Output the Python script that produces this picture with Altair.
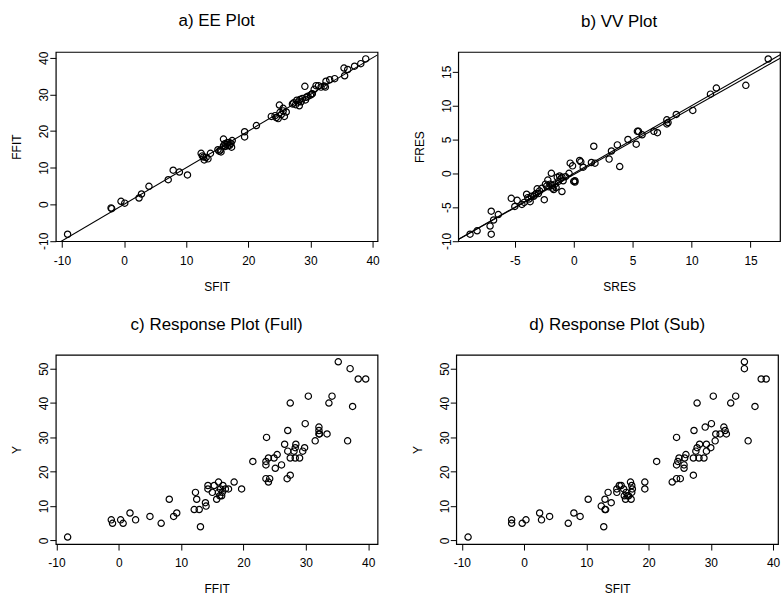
import altair as alt
import pandas as pd

# ---------------- data ----------------
# a) EE plot: SFIT vs FFIT
a_sfit = [-9.1, -2.1, -2.0, -0.5, 0.1, 2.4, 2.8, 4.0, 7.1, 7.9, 8.9, 10.2, 12.4, 12.6, 12.8,
          12.9, 13.2, 13.5, 13.9, 15.1, 15.3, 15.5, 15.6, 16.0, 16.0, 16.2, 16.3, 16.4, 16.6,
          16.7, 16.9, 17.0, 17.2, 17.3, 17.4, 19.4, 19.4, 21.3, 23.7, 24.3, 24.5, 24.8, 25.0,
          25.1, 25.3, 25.6, 25.6, 25.8, 26.1, 27.1, 27.3, 27.6, 27.8, 28.0, 28.2, 28.3, 28.5,
          28.7, 29.1, 29.2, 29.3, 29.6, 30.0, 30.2, 30.3, 30.6, 30.9, 31.3, 31.7, 32.2, 32.4,
          32.5, 33.1, 33.9, 35.4, 35.5, 36.0, 37.1, 38.1, 38.9]
a_ffit = [-8.2, -1.0, -1.2, 0.8, 0.3, 1.7, 2.8, 4.9, 6.7, 9.3, 8.8, 8.0, 13.9, 13.2, 12.9,
          12.1, 12.8, 12.4, 13.9, 14.9, 14.5, 14.8, 14.3, 17.8, 16.0, 16.5, 15.8, 16.4, 16.8,
          16.0, 16.9, 16.1, 16.6, 15.6, 17.4, 19.8, 18.4, 21.5, 24.0, 24.2, 23.7, 23.4, 27.1,
          25.1, 24.5, 25.5, 26.2, 24.0, 25.2, 27.4, 27.7, 27.2, 28.4, 27.9, 26.9, 28.6, 28.0,
          28.9, 32.2, 28.5, 29.2, 29.5, 29.8, 30.1, 30.2, 31.4, 32.4, 32.4, 32.0, 32.3, 32.0,
          33.6, 34.0, 34.3, 37.2, 35.1, 36.8, 37.7, 38.4, 39.7]

# b) VV plot: SRES vs FRES
b_sres = [-8.8, -8.2, -7.0, -7.1, -7.0, -6.8, -6.4, -5.3, -5.0, -4.8, -4.4, -4.2, -4.0, -3.9,
          -3.8, -3.7, -3.6, -3.4, -3.3, -3.2, -3.1, -3.0, -2.9, -2.7, -2.5, -2.4, -2.3, -2.2,
          -2.1, -1.9, -2.0, -1.8, -1.8, -1.7, -1.6, -1.5, -1.4, -1.3, -1.2, -1.1, -1.0, -1.0,
          -0.9, -0.7, -0.4, -0.3, -0.1, 0.0, 0.1, 0.1, 0.5, 0.6, 0.8, 1.5, 1.7, 1.8, 3.0, 3.2,
          3.7, 3.9, 4.6, 5.3, 5.4, 5.5, 5.8, 6.8, 7.1, 7.9, 7.9, 8.0, 8.7, 10.1, 11.6, 12.1,
          14.6, 16.5]
b_fres = [-9.0, -8.5, -9.0, -7.8, -5.6, -6.9, -6.1, -3.7, -4.9, -4.0, -4.6, -4.3, -3.1, -3.6,
          -3.8, -4.2, -3.4, -3.4, -3.2, -3.0, -2.3, -3.0, -2.6, -2.2, -3.9, -1.6, -1.9, -1.0,
          -2.0, 0.0, -1.6, -1.8, -2.2, -2.4, -1.6, -2.1, -0.6, -1.2, -0.4, -0.8, -0.6, -2.7,
          -1.1, -0.5, 0.0, 1.5, 1.1, -1.2, -1.1, -1.3, 1.9, 1.7, 0.9, 1.6, 4.0, 1.5, 2.1, 3.3,
          4.2, 1.0, 5.0, 4.3, 6.2, 6.2, 5.7, 6.2, 6.0, 7.9, 7.3, 7.5, 8.7, 9.3, 11.7, 12.6,
          13.0, 16.9]

# c) Response plot (full): FFIT vs Y
c_ffit = [-8.2, -1.2, -1.0, 0.3, 0.7, 1.8, 2.7, 5.0, 6.8, 8.1, 8.8, 9.3, 12.1, 12.3, 12.5,
          12.9, 13.1, 13.9, 14.0, 14.3, 14.3, 15.0, 15.3, 16.0, 15.7, 16.0, 16.2, 16.3, 16.6,
          16.7, 16.5, 17.1, 17.6, 18.5, 19.7, 21.5, 23.7, 23.6, 23.6, 24.0, 23.6, 24.2, 24.0,
          24.9, 25.1, 25.4, 26.1, 26.6, 27.1, 27.1, 27.0, 27.5, 27.5, 27.5, 28.1, 28.3, 28.4,
          28.3, 29.0, 29.5, 29.8, 29.9, 30.4, 31.5, 32.1, 32.1, 32.1, 32.2, 33.4, 33.7, 34.2,
          35.2, 36.7, 37.1, 37.5, 38.4, 39.6]
c_y = [1, 6, 5, 6, 5, 8, 6, 7, 5, 12, 7, 8, 9, 14, 12,
       9, 4, 11, 10, 16, 15, 14, 16, 17, 12, 14, 13, 15, 14,
       16, 13, 15, 15, 17, 15, 23, 30, 23, 22, 24, 18, 18, 17,
       24, 21, 25, 22, 28, 32, 26, 18, 19, 40, 24, 26, 27, 28,
       24, 24, 26, 27, 34, 42, 29, 33, 32, 31, 31, 31, 40, 42,
       52, 29, 50, 39, 47, 47]

# d) Response plot (sub): SFIT vs Y
d_sfit = [-9.0, -2.0, -2.0, -0.3, 0.3, 2.5, 2.8, 4.1, 7.1, 8.0, 9.0, 10.3, 12.4, 12.8, 13.0,
          13.0, 13.1, 13.5, 14.0, 14.9, 14.9, 15.3, 15.6, 16.0, 16.1, 16.4, 16.6, 16.8, 17.1,
          17.2, 17.3, 17.3, 17.4, 16.3, 19.4, 19.4, 21.3, 23.8, 24.5, 24.5, 24.7, 24.9, 24.5,
          25.1, 25.7, 25.7, 25.8, 26.0, 27.2, 27.2, 27.3, 27.8, 27.6, 27.8, 28.2, 28.1, 28.9,
          29.1, 29.3, 29.3, 30.1, 30.4, 30.0, 30.7, 30.8, 31.5, 32.1, 32.3, 32.5, 33.2, 34.0,
          35.4, 35.4, 36.0, 37.1, 38.1, 38.9]
d_y = [1, 6, 5, 5, 6, 8, 6, 7, 5, 8, 7, 12, 10, 4, 12,
       9, 9, 14, 11, 15, 14, 16, 16, 15, 13, 14, 13, 13, 17,
       12, 16, 14, 15, 12, 17, 15, 23, 17, 30, 22, 23, 24, 18,
       18, 22, 21, 24, 25, 19, 24, 32, 40, 26, 27, 28, 24, 24,
       33, 28, 26, 34, 42, 27, 29, 31, 31, 33, 32, 31, 40, 42,
       52, 50, 29, 39, 47, 47]

# reference lines
a_line_x = [-11.0, 40.8]
a_line_y = [-11.0, 40.8]
b_id_x = [-9.8, 17.6]
b_id_y = [-9.8, 17.6]
b_fit_x = [-9.8, 17.6]
b_fit_y = [-9.8, 17.1]

FONT = "Liberation Sans"
W, H = 323, 190
LABEL_EXPR = "'' + datum.value"


def panel(px, py, xdom, ydom, xticks, yticks, title, xt, yt, lines=()):
    df = pd.DataFrame({"x": px, "y": py})
    xs = alt.Scale(domain=xdom, nice=False, zero=False)
    ys = alt.Scale(domain=ydom, nice=False, zero=False)
    xenc = alt.X("x:Q", scale=xs, axis=alt.Axis(values=xticks, title=xt, labelExpr=LABEL_EXPR))
    yenc = alt.Y("y:Q", scale=ys, axis=alt.Axis(values=yticks, title=yt, labelExpr=LABEL_EXPR))
    layers = []
    for lx, ly in lines:
        ldf = pd.DataFrame({"x": lx, "y": ly})
        layers.append(
            alt.Chart(ldf).mark_line(color="black", strokeWidth=1.1, clip=True).encode(x=xenc, y=yenc)
        )
    pts = alt.Chart(df).mark_point(
        shape="circle", filled=False, color="black", size=40, strokeWidth=1.2, opacity=1
    ).encode(x=xenc, y=yenc)
    layers.append(pts)
    return alt.layer(*layers).properties(
        width=W, height=H,
        title=alt.TitleParams(title, frame="group", anchor="middle", offset=21),
    )


pa = panel(a_sfit, a_ffit, [-11.0, 40.8], [-10.1, 41.6], [-10, 0, 10, 20, 30, 40],
           [-10, 0, 10, 20, 30, 40], "a) EE Plot", "SFIT", "FFIT",
           lines=[(a_line_x, a_line_y)])
pb = panel(b_sres, b_fres, [-9.8, 17.5], [-10.04, 17.94], [-5, 0, 5, 10, 15],
           [-10, -5, 0, 5, 10, 15], "b) VV Plot", "SRES", "FRES",
           lines=[(b_id_x, b_id_y), (b_fit_x, b_fit_y)])
pc = panel(c_ffit, c_y, [-10.1, 41.5], [-1.04, 54.04], [-10, 0, 10, 20, 30, 40],
           [0, 10, 20, 30, 40, 50], "c) Response Plot (Full)", "FFIT", "Y")
pd_ = panel(d_sfit, d_y, [-10.9, 40.8], [-1.04, 54.04], [-10, 0, 10, 20, 30, 40],
            [0, 10, 20, 30, 40, 50], "d) Response Plot (Sub)", "SFIT", "Y")

chart = alt.vconcat(
    alt.hconcat(pa, pb, spacing=32),
    alt.hconcat(pc, pd_, spacing=32),
    spacing=22,
).properties(
    padding={"left": 10, "top": 10, "right": 0, "bottom": 0},
    background="white",
).configure_view(
    stroke="black", strokeWidth=1.2
).configure_axis(
    domain=False, grid=False, tickColor="black", tickSize=6, tickWidth=1,
    labelFont=FONT, labelFontSize=12, labelColor="black", labelFlush=False,
    labelPadding=8, labelOverlap=False,
    titleFont=FONT, titleFontSize=12, titleFontWeight="normal", titleColor="black",
    titlePadding=15,
).configure_axisY(
    labelAngle=270, labelAlign="center", labelBaseline="alphabetic", labelPadding=2,
    titlePadding=14,
).configure_title(
    font=FONT, fontSize=17, fontWeight="normal", color="black",
)

chart.save("out.html", embed_options={"renderer": "svg", "actions": False})
